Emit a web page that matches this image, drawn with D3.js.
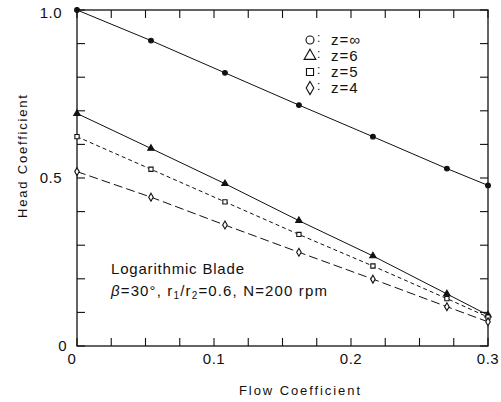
<!DOCTYPE html>
<html>
<head>
<meta charset="utf-8">
<script src="https://cdn.jsdelivr.net/npm/d3@7"></script>
<style>
  body { margin: 0; background: #fff; }
  text { font-family: "Liberation Sans", Arial, sans-serif; fill: #111; }
</style>
</head>
<body>
<div id="chart"></div>
<script>
// flow coefficient at the measured points
const flow = [0, 0.054, 0.108, 0.162, 0.216, 0.27, 0.3]
// head coefficient per blade number
const zInf = [1.0, 0.909, 0.813, 0.717, 0.623, 0.528, 0.478]
const z6 = [0.692, 0.588, 0.483, 0.373, 0.268, 0.155, 0.092]
const z5 = [0.623, 0.526, 0.429, 0.332, 0.238, 0.141, 0.086]
const z4 = [0.519, 0.443, 0.360, 0.279, 0.199, 0.117, 0.072]
const seriesNames = ['z=\u221e', 'z=6', 'z=5', 'z=4']
const xTickLabels = [0, 0.1, 0.2, 0.3]
const yTickLabels = [0, 0.5, 1.0]

const width = 501, height = 402
const margin = {top: 10, right: 13, bottom: 56, left: 77}
const w = width - margin.left - margin.right
const h = height - margin.top - margin.bottom

const svg = d3.select('#chart').append('svg')
    .attr('width', width).attr('height', height)
const g = svg.append('g')
    .attr('transform', `translate(${margin.left},${margin.top})`)

const x = d3.scaleLinear().domain([0, 0.3]).range([0, w])
const y = d3.scaleLinear().domain([0, 1]).range([h, 0])

// frame
g.append('rect').attr('width', w).attr('height', h)
    .attr('fill', 'none').attr('stroke', '#111').attr('stroke-width', 1.3)

// inward ticks on all four sides
const xMinor = d3.range(0, 0.3001, 0.025)
const yMinor = d3.range(0, 1.0001, 0.1)
const tick = 8
const tk = g.append('g').attr('stroke', '#111').attr('stroke-width', 1.1)
xMinor.forEach(v => {
    tk.append('line').attr('x1', x(v)).attr('x2', x(v)).attr('y1', h).attr('y2', h - tick)
    tk.append('line').attr('x1', x(v)).attr('x2', x(v)).attr('y1', 0).attr('y2', tick)
})
yMinor.forEach(v => {
    tk.append('line').attr('y1', y(v)).attr('y2', y(v)).attr('x1', 0).attr('x2', tick)
    tk.append('line').attr('y1', y(v)).attr('y2', y(v)).attr('x1', w).attr('x2', w - tick)
})

// tick labels
g.selectAll('.xl').data(xTickLabels).join('text')
    .attr('x', d => x(d) - (d === 0 ? 5 : 0)).attr('y', h + 18)
    .attr('text-anchor', 'middle').attr('font-size', 15).attr('letter-spacing', 0.5)
    .text(d => d === 0 ? '0' : d.toFixed(1))
g.selectAll('.yl').data(yTickLabels).join('text')
    .attr('x', d => d === 0 ? -10 : -15).attr('y', d => y(d) + (d === 1 ? 8 : 5))
    .attr('text-anchor', 'end').attr('font-size', 15).attr('letter-spacing', 0.5)
    .text(d => d === 0 ? '0' : d.toFixed(1))

// axis titles
g.append('text').attr('x', 239 - margin.left).attr('y', 395 - margin.top)
    .attr('font-size', 13).attr('textLength', 121).attr('lengthAdjust', 'spacing')
    .text('Flow Coefficient')
g.append('text')
    .attr('transform', `translate(${27 - margin.left},${218 - margin.top}) rotate(-90)`)
    .attr('font-size', 13).attr('textLength', 123).attr('lengthAdjust', 'spacing')
    .text('Head Coefficient')

// series
const series = [
    {name: seriesNames[0], vals: zInf, dash: null, sym: d3.symbolCircle, fill: '#111'},
    {name: seriesNames[1], vals: z6, dash: null, sym: d3.symbolTriangle, fill: '#111'},
    {name: seriesNames[2], vals: z5, dash: '4,3', sym: d3.symbolSquare, fill: '#fff'},
    {name: seriesNames[3], vals: z4, dash: '9,4', sym: d3.symbolDiamond, fill: '#fff'}
]

const line = d3.line().x(d => x(d[0])).y(d => y(d[1]))

series.forEach(s => {
    const pts = flow.map((f, i) => [f, s.vals[i]])
    g.append('path').datum(pts)
        .attr('d', line)
        .attr('fill', 'none').attr('stroke', '#111').attr('stroke-width', 1)
        .attr('stroke-dasharray', s.dash)
    g.selectAll(null).data(pts).join('path')
        .attr('transform', d => `translate(${x(d[0])},${y(d[1])})`)
        .attr('d', d3.symbol().type(s.sym).size(18))
        .attr('fill', s.fill).attr('stroke', '#111').attr('stroke-width', 1.1)
})

// legend
const leg = svg.append('g').attr('transform', 'translate(310,40)')
series.forEach((s, i) => {
    const row = leg.append('g').attr('transform', `translate(0,${i * 16})`)
    row.append('path')
        .attr('d', d3.symbol().type(s.sym).size(s.sym === d3.symbolTriangle ? 60 : 50))
        .attr('fill', 'none').attr('stroke', '#111').attr('stroke-width', 1.1)
    row.append('text').attr('x', 7).attr('y', 2).attr('font-size', 12).text(':')
    row.append('text').attr('x', 21).attr('y', 5).attr('font-size', 15)
        .attr('letter-spacing', 1).text(s.name)
})

// annotation
const note = g.append('g').attr('transform', `translate(${111 - margin.left},0)`)
note.append('text').attr('x', 0).attr('y', 274 - margin.top)
    .attr('font-size', 15).attr('textLength', 133).attr('lengthAdjust', 'spacing')
    .text('Logarithmic Blade')
const l2 = note.append('text').attr('x', 0).attr('y', 296 - margin.top)
    .attr('font-size', 15).attr('textLength', 216).attr('lengthAdjust', 'spacing')
l2.append('tspan').attr('font-style', 'italic').text('\u03b2')
l2.append('tspan').text('=30\u00b0, r')
l2.append('tspan').attr('font-size', 10).attr('dy', 3).text('1')
l2.append('tspan').attr('dy', -3).text('/r')
l2.append('tspan').attr('font-size', 10).attr('dy', 3).text('2')
l2.append('tspan').attr('dy', -3).text('=0.6, N=200 rpm')
</script>
</body>
</html>
